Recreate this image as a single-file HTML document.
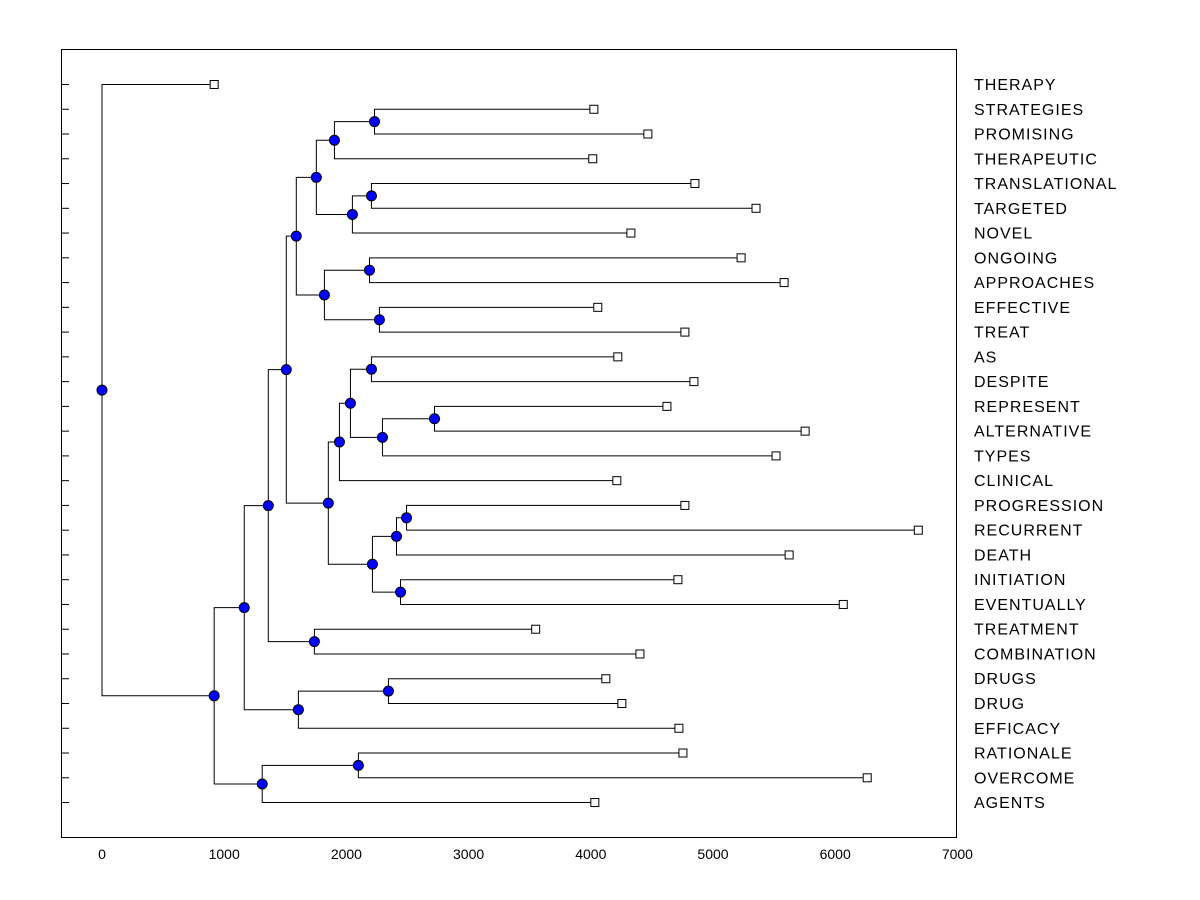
<!DOCTYPE html>
<html><head><meta charset="utf-8"><style>
html,body{margin:0;padding:0;background:#fff;}
svg{display:block;font-family:"Liberation Sans",Arial,sans-serif;}
</style></head><body>
<svg id="chart" width="1200" height="900">
<rect x="61.5" y="49.5" width="895" height="788" fill="#fff" stroke="#000" stroke-width="1"/>
<g id="links"></g>
<g id="marks"></g>
<g id="ticks"></g>
</svg>
<script>
const labels=["THERAPY","STRATEGIES","PROMISING","THERAPEUTIC","TRANSLATIONAL","TARGETED","NOVEL","ONGOING","APPROACHES","EFFECTIVE","TREAT","AS","DESPITE","REPRESENT","ALTERNATIVE","TYPES","CLINICAL","PROGRESSION","RECURRENT","DEATH","INITIATION","EVENTUALLY","TREATMENT","COMBINATION","DRUGS","DRUG","EFFICACY","RATIONALE","OVERCOME","AGENTS"];
const leafValues=[918,4025,4467,4016,4852,5352,4328,5230,5582,4057,4770,4221,4844,4623,5754,5516,4213,4770,6680,5623,4713,6066,3549,4402,4123,4254,4721,4754,6262,4033];
const mergeLeft=[1,30,4,32,31,7,9,35,34,11,13,40,39,42,17,44,20,45,43,38,22,49,24,52,51,27,55,54,0];
const mergeRight=[2,3,5,6,33,8,10,36,37,12,14,15,41,16,18,19,21,46,47,48,23,50,25,26,53,28,29,56,57];
const mergeHeights=[2230,1902,2205,2049,1754,2189,2270,1820,1590,2205,2721,2295,2033,1943,2492,2410,2443,2213,1852,1508,1738,1361,2344,1607,1164,2098,1311,918,0];
const xTicks=[0,1000,2000,3000,4000,5000,6000,7000];

const NS="http://www.w3.org/2000/svg";
const X=v=>102+v*0.1222;
const Y=i=>84+i*24.76;
function mk(tag,attrs,parent){const e=document.createElementNS(NS,tag);for(const k in attrs)e.setAttribute(k,attrs[k]);parent.appendChild(e);return e;}
const links=document.getElementById('links'),marks=document.getElementById('marks'),ticks=document.getElementById('ticks');
const n=labels.length;
const nodeX=[],nodeY=[];
for(let i=0;i<n;i++){nodeX[i]=X(leafValues[i]);nodeY[i]=Y(i);}
for(let k=0;k<mergeHeights.length;k++){
  const a=mergeLeft[k],b=mergeRight[k],id=n+k;
  const x=X(mergeHeights[k]);
  nodeX[id]=x;nodeY[id]=(nodeY[a]+nodeY[b])/2;
  const p=mk('path',{d:`M${nodeX[a]},${nodeY[a]+.5}H${x}V${nodeY[b]+.5}H${nodeX[b]}`,fill:'none',stroke:'#000','stroke-width':1},links);
  
  
}
for(let k=0;k<mergeHeights.length;k++){
  const id=n+k;
  const c=mk('circle',{cx:nodeX[id],cy:nodeY[id]+.5,r:5,fill:'#0000ff',stroke:'#000','stroke-width':1},marks);
  
  
}
for(let i=0;i<n;i++){
  const r=mk('rect',{x:nodeX[i]-4,y:nodeY[i]-3.5,width:8,height:8,fill:'#fff',stroke:'#000','stroke-width':1},marks);
  
  
  const t=mk('text',{x:974,y:nodeY[i]+6,'font-size':16,'letter-spacing':1,fill:'#000'},ticks);
  t.textContent=labels[i];
  
  
  const tk=mk('line',{x1:61,x2:69,y1:nodeY[i]+.5,y2:nodeY[i]+.5,stroke:'#000','stroke-width':1},ticks);
  
  
}
for(const v of xTicks){
  const t=mk('text',{x:X(v),y:859,'font-size':14,'text-anchor':'middle',fill:'#000'},ticks);
  t.textContent=v;
  
  
}
</script>
</body></html>
